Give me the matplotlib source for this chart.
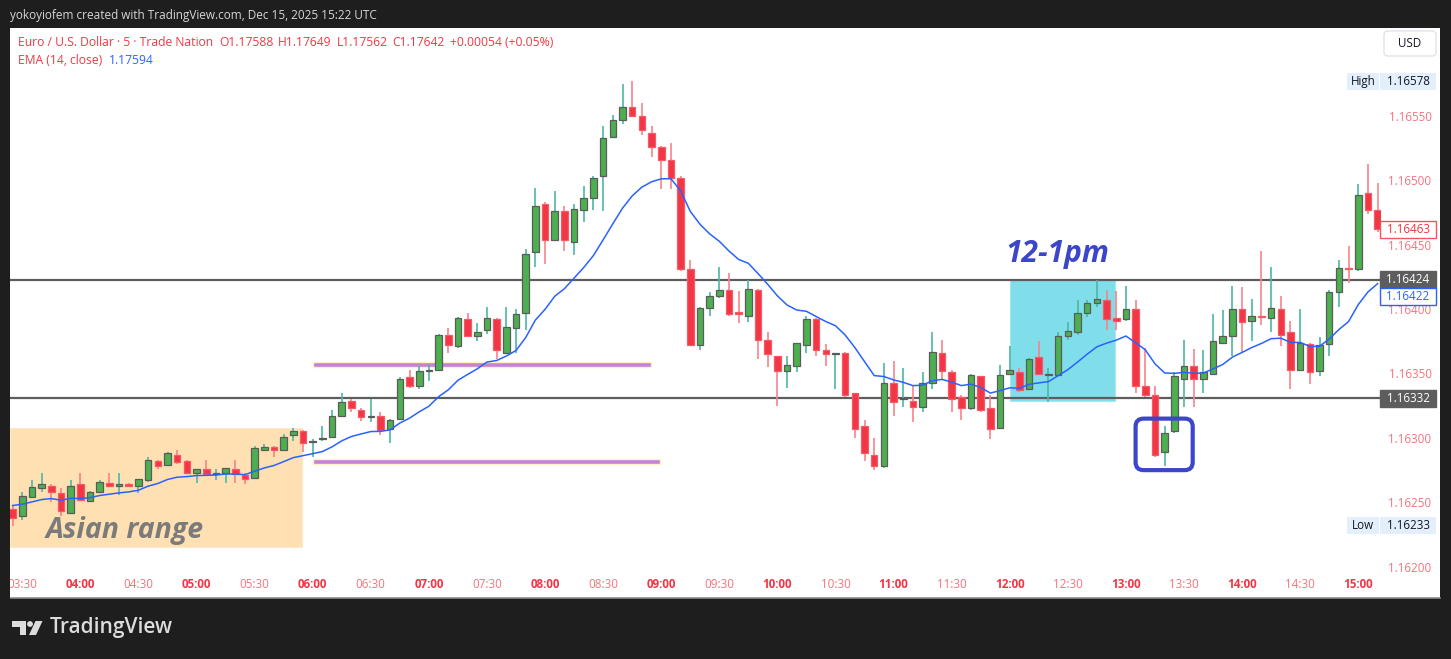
import matplotlib
matplotlib.use("Agg")
import matplotlib.pyplot as plt
from matplotlib.patches import Rectangle, FancyBboxPatch, Polygon, Circle
from matplotlib.transforms import IdentityTransform, Bbox
from matplotlib.lines import Line2D
import numpy as np
import pandas as pd

# ---------------- data ----------------
header_text = "yokoyiofem created with TradingView.com, Dec 15, 2025 15:22 UTC"
symbol_title = "Euro / U.S. Dollar \u00b7 5 \u00b7 Trade Nation"
ohlc_labels = ["O", "H", "L", "C"]
ohlc_values = ["1.17588", "1.17649", "1.17562", "1.17642"]
change_text = "+0.00054 (+0.05%)"
ema_title = "EMA (14, close)"
ema_value_text = "1.17594"

first_bar_time = "2025-12-15 03:25"
bar_freq = "5min"

opens = [
    1.16246, 1.16240, 1.16255, 1.16262, 1.16264, 1.16258, 1.16243, 1.16265, 1.16252, 1.16259,
    1.16266, 1.16264, 1.16265, 1.16264, 1.16268, 1.16283, 1.16280, 1.16288, 1.16283, 1.16274,
    1.16277, 1.16273, 1.16274, 1.16277, 1.16272, 1.16270, 1.16292, 1.16294, 1.16292, 1.16303,
    1.16306, 1.16298, 1.16300, 1.16302, 1.16318, 1.16330, 1.16323, 1.16317, 1.16318, 1.16308,
    1.16316, 1.16348, 1.16341, 1.16353, 1.16354, 1.16381, 1.16372, 1.16393, 1.16380, 1.16385,
    1.16393, 1.16367, 1.16386, 1.16398, 1.16445, 1.16483, 1.16455, 1.16477, 1.16453, 1.16478,
    1.16487, 1.16504, 1.16535, 1.16548, 1.16558, 1.16551, 1.16538, 1.16527, 1.16517, 1.16503,
    1.16432, 1.16373, 1.16402, 1.16411, 1.16416, 1.16399, 1.16396, 1.16416, 1.16377, 1.16365,
    1.16353, 1.16357, 1.16373, 1.16393, 1.16369, 1.16366, 1.16367, 1.16336, 1.16310, 1.16288,
    1.16279, 1.16344, 1.16331, 1.16330, 1.16325, 1.16344, 1.16367, 1.16352, 1.16333, 1.16324,
    1.16349, 1.16324, 1.16309, 1.16351, 1.16352, 1.16339, 1.16364, 1.16350, 1.16350, 1.16380,
    1.16383, 1.16398, 1.16406, 1.16408, 1.16394, 1.16393, 1.16401, 1.16341, 1.16334, 1.16290,
    1.16306, 1.16347, 1.16357, 1.16347, 1.16351, 1.16375, 1.16380, 1.16401, 1.16392, 1.16396,
    1.16394, 1.16401, 1.16383, 1.16354, 1.16374, 1.16353, 1.16374, 1.16414, 1.16433, 1.16432,
    1.16491, 1.16478,
]
highs = [
    1.16248, 1.16259, 1.16268, 1.16274, 1.16265, 1.16262, 1.16268, 1.16274, 1.16260, 1.16268,
    1.16274, 1.16274, 1.16266, 1.16269, 1.16286, 1.16284, 1.16290, 1.16292, 1.16284, 1.16277,
    1.16284, 1.16277, 1.16278, 1.16284, 1.16274, 1.16295, 1.16296, 1.16295, 1.16304, 1.16309,
    1.16307, 1.16300, 1.16310, 1.16323, 1.16336, 1.16331, 1.16324, 1.16331, 1.16321, 1.16316,
    1.16348, 1.16354, 1.16357, 1.16358, 1.16382, 1.16386, 1.16395, 1.16398, 1.16390, 1.16403,
    1.16394, 1.16403, 1.16401, 1.16448, 1.16495, 1.16484, 1.16493, 1.16481, 1.16483, 1.16497,
    1.16504, 1.16543, 1.16552, 1.16576, 1.16578, 1.16561, 1.16543, 1.16528, 1.16530, 1.16504,
    1.16439, 1.16403, 1.16414, 1.16434, 1.16429, 1.16415, 1.16424, 1.16417, 1.16383, 1.16365,
    1.16365, 1.16375, 1.16396, 1.16394, 1.16374, 1.16367, 1.16368, 1.16336, 1.16315, 1.16301,
    1.16359, 1.16361, 1.16355, 1.16342, 1.16352, 1.16383, 1.16377, 1.16354, 1.16334, 1.16351,
    1.16349, 1.16334, 1.16358, 1.16372, 1.16355, 1.16363, 1.16376, 1.16355, 1.16383, 1.16391,
    1.16408, 1.16408, 1.16424, 1.16416, 1.16415, 1.16419, 1.16408, 1.16371, 1.16341, 1.16310,
    1.16352, 1.16377, 1.16370, 1.16369, 1.16397, 1.16400, 1.16419, 1.16418, 1.16409, 1.16446,
    1.16434, 1.16411, 1.16392, 1.16401, 1.16375, 1.16379, 1.16416, 1.16439, 1.16450, 1.16498,
    1.16514, 1.16499,
]
lows = [
    1.16233, 1.16237, 1.16255, 1.16259, 1.16251, 1.16240, 1.16242, 1.16252, 1.16251, 1.16258,
    1.16263, 1.16257, 1.16263, 1.16258, 1.16267, 1.16277, 1.16279, 1.16281, 1.16273, 1.16266,
    1.16273, 1.16268, 1.16266, 1.16266, 1.16265, 1.16269, 1.16291, 1.16286, 1.16291, 1.16299,
    1.16290, 1.16286, 1.16299, 1.16301, 1.16317, 1.16321, 1.16314, 1.16313, 1.16303, 1.16297,
    1.16315, 1.16340, 1.16339, 1.16345, 1.16353, 1.16367, 1.16371, 1.16379, 1.16376, 1.16382,
    1.16362, 1.16366, 1.16367, 1.16385, 1.16434, 1.16436, 1.16454, 1.16446, 1.16443, 1.16469,
    1.16478, 1.16477, 1.16534, 1.16545, 1.16550, 1.16536, 1.16519, 1.16494, 1.16494, 1.16431,
    1.16372, 1.16369, 1.16396, 1.16410, 1.16396, 1.16390, 1.16391, 1.16362, 1.16356, 1.16326,
    1.16340, 1.16352, 1.16367, 1.16365, 1.16357, 1.16339, 1.16333, 1.16301, 1.16283, 1.16276,
    1.16278, 1.16318, 1.16325, 1.16313, 1.16321, 1.16339, 1.16347, 1.16321, 1.16315, 1.16323,
    1.16321, 1.16300, 1.16308, 1.16350, 1.16337, 1.16338, 1.16350, 1.16329, 1.16349, 1.16377,
    1.16381, 1.16395, 1.16403, 1.16385, 1.16385, 1.16392, 1.16336, 1.16333, 1.16286, 1.16279,
    1.16305, 1.16325, 1.16325, 1.16336, 1.16350, 1.16374, 1.16365, 1.16367, 1.16376, 1.16389,
    1.16383, 1.16372, 1.16339, 1.16353, 1.16343, 1.16349, 1.16365, 1.16403, 1.16421, 1.16431,
    1.16475, 1.16461,
]
closes = [
    1.16239, 1.16256, 1.16263, 1.16265, 1.16259, 1.16244, 1.16264, 1.16253, 1.16259, 1.16267,
    1.16264, 1.16265, 1.16264, 1.16269, 1.16284, 1.16279, 1.16289, 1.16282, 1.16274, 1.16277,
    1.16273, 1.16274, 1.16278, 1.16273, 1.16269, 1.16293, 1.16294, 1.16292, 1.16302, 1.16306,
    1.16297, 1.16299, 1.16301, 1.16318, 1.16329, 1.16324, 1.16317, 1.16318, 1.16307, 1.16315,
    1.16347, 1.16341, 1.16353, 1.16354, 1.16381, 1.16373, 1.16394, 1.16380, 1.16383, 1.16394,
    1.16369, 1.16387, 1.16397, 1.16444, 1.16481, 1.16455, 1.16477, 1.16455, 1.16479, 1.16487,
    1.16503, 1.16534, 1.16548, 1.16558, 1.16551, 1.16540, 1.16527, 1.16517, 1.16503, 1.16432,
    1.16373, 1.16402, 1.16411, 1.16416, 1.16397, 1.16397, 1.16417, 1.16377, 1.16366, 1.16353,
    1.16358, 1.16375, 1.16393, 1.16369, 1.16366, 1.16367, 1.16334, 1.16308, 1.16289, 1.16279,
    1.16344, 1.16329, 1.16332, 1.16325, 1.16344, 1.16368, 1.16353, 1.16331, 1.16324, 1.16350,
    1.16323, 1.16308, 1.16350, 1.16354, 1.16338, 1.16362, 1.16351, 1.16351, 1.16380, 1.16384,
    1.16398, 1.16406, 1.16409, 1.16393, 1.16392, 1.16401, 1.16341, 1.16334, 1.16288, 1.16305,
    1.16349, 1.16357, 1.16347, 1.16352, 1.16376, 1.16380, 1.16401, 1.16391, 1.16396, 1.16395,
    1.16402, 1.16381, 1.16354, 1.16375, 1.16352, 1.16373, 1.16414, 1.16433, 1.16432, 1.16490,
    1.16478, 1.16463,
]

ema_period = 14
ema_prior = 1.16250   # EMA value just before the first visible bar

time_labels = ["03:30", "04:00", "04:30", "05:00", "05:30", "06:00", "06:30", "07:00",
               "07:30", "08:00", "08:30", "09:00", "09:30", "10:00", "10:30", "11:00",
               "11:30", "12:00", "12:30", "13:00", "13:30", "14:00", "14:30", "15:00"]
price_ticks = [1.16200, 1.16250, 1.16300, 1.16350, 1.16400, 1.16450, 1.16500, 1.16550]

level_lines = [1.16424, 1.16332]
session_high = 1.16578
session_low = 1.16233
last_price = 1.16463
ema_last = 1.16422

# ---------------- figure ----------------
W, H, DPI = 1451, 659, 100
BG = "#1e1e1e"
FONT = ["Open Sans", "DejaVu Sans"]
GREEN, GREEN_WICK, GREEN_EDGE = "#4caf50", "#4db6a4", "#5b5b5b"
RED, RED_WICK, RED_EDGE = "#f23645", "#f7838b", "#f55a66"
AX_RED = "#f23645"
AX_RED_LIGHT = "#f5737d"

fig = plt.figure(figsize=(W / DPI, H / DPI), dpi=DPI)
fig.patch.set_facecolor(BG)
ident = IdentityTransform()


def P(xp, yp):
    return (xp, H - yp)


fig.add_artist(Rectangle(P(10, 598), 1430, 570, transform=ident, fc="white", ec="none", zorder=-1))
fig.add_artist(Line2D([10, 1440], [H - 598, H - 598], transform=ident, color="#8c8c8c", lw=1.2, zorder=1))

ax = fig.add_axes([10 / W, 1 - 572 / H, 1371 / W, 544 / H])
ax.set_axis_off()
n = len(closes)
xi = np.arange(n)
ax.set_xlim(-0.27, 141.35)
ax.set_ylim(1.161969, 1.166193)

O = np.array(opens); Hh = np.array(highs); L = np.array(lows); C = np.array(closes)
up = C >= O

# zones
ax.add_patch(Rectangle((-0.3, 1.16216), 30.18, 1.16309 - 1.16216, fc="#ffe0b2", ec="#ffe9cc", lw=0.8, zorder=1))
ax.add_patch(Rectangle((103.0, 1.16330), 10.9, 1.16424 - 1.16330, fc="#80deea", ec="#a5e8f0", lw=0.8, zorder=1))
for (x0, x1, yc) in [(31.0, 65.9, 1.16358), (31.0, 66.85, 1.16283)]:
    ax.add_patch(Rectangle((x0, yc - 0.0000195), x1 - x0, 0.000039, fc="#c682d6", ec="#fff1c0", lw=1.0, zorder=1.5))

for lvl in level_lines:
    ax.axhline(lvl, color="#5d5d5d", lw=1.6, zorder=2)

# candles
ax.vlines(xi[up], L[up], Hh[up], color=GREEN_WICK, lw=1.2, zorder=3)
ax.vlines(xi[~up], L[~up], Hh[~up], color=RED_WICK, lw=1.2, zorder=3)
body = np.maximum(np.abs(C - O), 0.000006)
bottom = np.minimum(O, C)
ax.bar(xi[up], body[up], bottom=bottom[up], width=0.68, color=GREEN, edgecolor=GREEN_EDGE, lw=0.9, zorder=4)
ax.bar(xi[~up], body[~up], bottom=bottom[~up], width=0.68, color=RED, edgecolor=RED_EDGE, lw=0.9, zorder=4)

# EMA
ema = pd.Series([ema_prior] + closes).ewm(span=ema_period, adjust=False).mean().to_numpy()[1:]
ax.plot(xi, ema, color="#2962ff", lw=1.1, zorder=5)


def yd(price):
    return ax.transData.transform((0, price))[1]


def xd(idx):
    return ax.transData.transform((idx, 0))[0]


# blue rounded rectangle
xa, ya = ax.transData.transform((116.0, 1.16276))
xb, yb = ax.transData.transform((121.9, 1.16316))
fig.add_artist(FancyBboxPatch((xa, ya), xb - xa, yb - ya, boxstyle="round,pad=0,rounding_size=8",
                              transform=ident, fill=False, ec="#3c46c8", lw=3, zorder=6))

# annotation texts
ax.text(3.4, 1.16229, "Asian range", fontsize=20.5, fontweight="bold", fontstyle="italic",
        color="#7b7b7b", family=FONT, va="center", ha="left", zorder=6)
ax.text(102.5, 1.16432, "12-1pm", fontsize=21.5, fontweight="bold", fontstyle="italic",
        color="#3c46c8", family=FONT, va="bottom", ha="left", zorder=6)

# time axis labels
bar_times = pd.date_range(first_bar_time, periods=n, freq=bar_freq).strftime("%H:%M").tolist()
for lbl in time_labels:
    idx = bar_times.index(lbl)
    full_hour = lbl.endswith(":00")
    fig.text(xd(idx) / W, (H - 585) / H, lbl, ha="center", va="center", family=FONT,
             fontsize=8.4, fontweight="bold" if full_hour else "normal",
             color=AX_RED if full_hour else AX_RED_LIGHT)

# price axis labels
clip = Bbox.from_extents(1370, H - 572, 1445, H - 28)
for pt in price_ticks:
    t = fig.text(1410 / W, yd(pt) / H, f"{pt:.5f}", ha="center", va="center", family=FONT,
                 fontsize=8.4, color=AX_RED_LIGHT)
    t.set_clip_box(clip)
    t.set_clip_on(True)


def price_box(yc, text, fc, ec, tc, x0=1380, x1=1436, h=17):
    fig.add_artist(Rectangle((x0, yc - h / 2), x1 - x0, h, transform=ident, fc=fc, ec=ec, lw=1, zorder=7))
    fig.text((x0 + x1) / 2 / W, yc / H, text, ha="center", va="center", family=FONT,
             fontsize=8.4, color=tc, zorder=8)


for lbl_text, pr in [("High", session_high), ("Low", session_low)]:
    yc = yd(pr)
    fig.add_artist(Rectangle((1347, yc - 8.5), 32, 17, transform=ident, fc="#e3effd", ec="none", zorder=7))
    fig.text(1363 / W, yc / H, lbl_text, ha="center", va="center", family=FONT, fontsize=8.4,
             color="#131722", zorder=8)
    price_box(yc, f"{pr:.5f}", "#e3effd", "none", "#131722")
price_box(yd(last_price), f"{last_price:.5f}", "white", "#f7525f", "#f23645")
for lvl in level_lines:
    price_box(yd(lvl), f"{lvl:.5f}", "#5d5d5d", "#5d5d5d", "white")
# EMA label is pushed just below the overlapping 1.16424 label (as TradingView stacks them)
price_box(yd(level_lines[0]) - 17, f"{ema_last:.5f}", "white", "#2962ff", "#2962ff")

# USD button
fig.add_artist(FancyBboxPatch((1384, H - 56), 52, 25, boxstyle="round,pad=0,rounding_size=4",
                              transform=ident, fc="white", ec="#e0e3eb", lw=1, zorder=7))
fig.text(1410 / W, (H - 43.5) / H, "USD", ha="center", va="center", family=FONT, fontsize=8.4,
         color="#131722", zorder=8)

# legend lines
ly1, ly2 = (H - 43) / H, (H - 60) / H
fig.text(18 / W, ly1, symbol_title, color=AX_RED, family=FONT, fontsize=8.7, va="center")
for xp, lab, val in zip([219, 278, 337, 392], ohlc_labels, ohlc_values):
    fig.text(xp / W, ly1, lab + val, color=AX_RED, family=FONT, fontsize=8.7, va="center")
fig.text(450 / W, ly1, change_text, color=AX_RED, family=FONT, fontsize=8.7, va="center")
fig.text(18 / W, ly2, ema_title, color=AX_RED, family=FONT, fontsize=8.7, va="center")
fig.text(109 / W, ly2, ema_value_text, color="#2962ff", family=FONT, fontsize=8.7, va="center")

# header
fig.text(10 / W, (H - 15) / H, header_text, color="#d6d6d6", family=FONT, fontsize=8.45, va="center")

# left dark strip (clips partially-visible first time label)
fig.add_artist(Rectangle((0, 0), 10, H, transform=ident, fc=BG, ec="none", zorder=20))

# TradingView logo
logo_c = "#dcdcdc"
fig.add_artist(Polygon([P(12, 621), P(25.5, 621), P(25.5, 635), P(19.5, 635), P(19.5, 627), P(12, 627)],
                       closed=True, transform=ident, fc=logo_c, ec="none", zorder=21))
fig.add_artist(Circle(P(30, 624), 2.9, transform=ident, fc=logo_c, ec="none", zorder=21))
fig.add_artist(Polygon([P(35.5, 621), P(42.5, 621), P(36, 635), P(29, 635)],
                       closed=True, transform=ident, fc=logo_c, ec="none", zorder=21))
fig.text(50 / W, (H - 628) / H, "TradingView", color=logo_c, family=FONT, fontsize=15,
         fontweight="semibold", va="center", ha="left")

fig.savefig("out.png", dpi=DPI, facecolor=BG)
